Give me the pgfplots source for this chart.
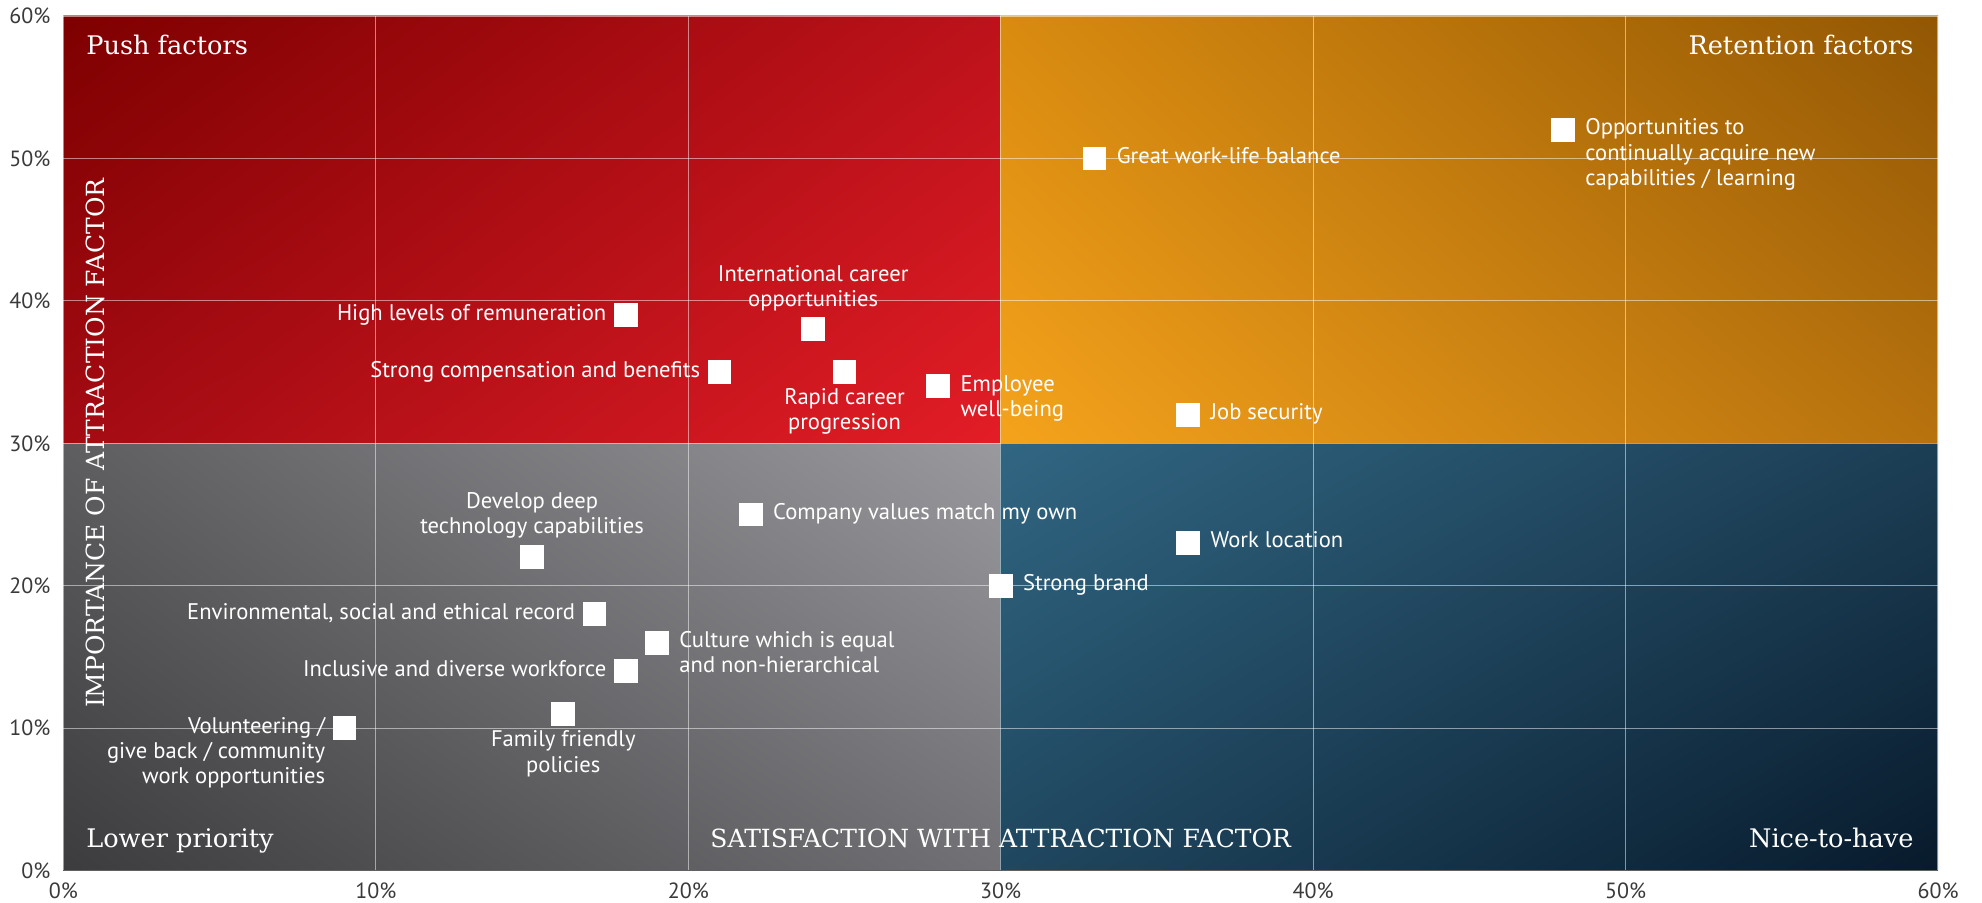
\documentclass[border=0pt]{standalone}
\usepackage{pgfplots}
\pgfplotsset{compat=1.18}
\usepackage{fontspec}
\setmainfont{PT Sans}
\newfontfamily\ttl{DejaVu Serif}
\usetikzlibrary{calc,shadings}

\definecolor{pushUL}{HTML}{7E0000}
\definecolor{pushUR}{HTML}{BD121B}
\definecolor{pushLL}{HTML}{A30B13}
\definecolor{pushLR}{HTML}{E31D26}
\definecolor{retUL}{HTML}{D98B10}
\definecolor{retUR}{HTML}{925704}
\definecolor{retLL}{HTML}{F5A31C}
\definecolor{retLR}{HTML}{B7720E}
\definecolor{lowUL}{HTML}{5E5E61}
\definecolor{lowUR}{HTML}{9A9A9E}
\definecolor{lowLL}{HTML}{3C3C3E}
\definecolor{lowLR}{HTML}{717175}
\definecolor{niceUL}{HTML}{316682}
\definecolor{niceUR}{HTML}{1C3E55}
\definecolor{niceLL}{HTML}{1F475F}
\definecolor{niceLR}{HTML}{081A2C}
\definecolor{ticktext}{HTML}{3A3A3A}

\tikzset{
  lab/.style={text=white, font=\fontsize{11.3}{12.6}\selectfont, inner sep=0pt},
  qt/.style={text=white, font=\ttl\fontsize{12.8}{14}\selectfont, inner sep=0pt},
  axt/.style={text=white, font=\ttl\fontsize{12.5}{14}\selectfont, inner sep=0pt},
}

\begin{document}
\begin{tikzpicture}
\begin{axis}[
  name=ax,
  set layers=standard,
  width=937.3pt, height=427.3pt, scale only axis,
  xmin=0, xmax=60, ymin=0, ymax=60,
  xtick={0,10,...,60}, ytick={0,10,...,60},
  /pgf/number format/assume math mode=true,
  xticklabel={\pgfmathprintnumber{\tick}\%},
  yticklabel={\pgfmathprintnumber{\tick}\%},
  tick label style={font=\fontsize{11}{13}\selectfont, text=ticktext},
  xticklabel style={yshift=-2.5pt},
  yticklabel style={xshift=-3pt},
  major tick length=0pt,
  grid=major,
  grid style={draw=white, draw opacity=0.5, line width=0.6pt},
  axis x line*=bottom, axis y line*=left,
  x axis line style={-, draw=black!62, line width=0.9pt},
  y axis line style={draw=none},
  clip=false,
]
% quadrant backgrounds
\begin{pgfonlayer}{axis background}
\shade[upper left=pushUL, upper right=pushUR, lower left=pushLL, lower right=pushLR] (axis cs:0,30) rectangle (axis cs:30,60);
\shade[upper left=retUL, upper right=retUR, lower left=retLL, lower right=retLR] (axis cs:30,30) rectangle (axis cs:60,60);
\shade[upper left=lowUL, upper right=lowUR, lower left=lowLL, lower right=lowLR] (axis cs:0,0) rectangle (axis cs:30,30);
\shade[upper left=niceUL, upper right=niceUR, lower left=niceLL, lower right=niceLR] (axis cs:30,0) rectangle (axis cs:60,30);
\end{pgfonlayer}

% data points
\addplot[only marks, mark=square*, mark size=5.7pt, mark options={fill=white, draw=white, line width=0pt}] coordinates {
  (33,50) (48,52) (18,39) (24,38) (21,35) (25,35) (28,34) (36,32)
  (22,25) (36,23) (30,20) (15,22) (17,18) (19,16) (18,14) (16,11) (9,10)
};

% point labels
\node[lab, anchor=mid west, xshift=11pt] at (axis cs:33,50) {Great work-life balance};
\node[lab, anchor=mid west, xshift=11pt] at (axis cs:48,52) {\begin{tabular}[t]{@{}l@{}}Opportunities to\\continually acquire new\\capabilities / learning\end{tabular}};
\node[lab, anchor=mid east, xshift=-9.5pt] at (axis cs:18,39) {High levels of remuneration};
\node[lab, anchor=mid, yshift=13.7pt] at (axis cs:24,38) {\begin{tabular}[b]{@{}c@{}}International career\\opportunities\end{tabular}};
\node[lab, anchor=mid east, xshift=-9.5pt] at (axis cs:21,35) {Strong compensation and benefits};
\node[lab, anchor=mid, yshift=-13.5pt] at (axis cs:25,35) {\begin{tabular}[t]{@{}c@{}}Rapid career\\progression\end{tabular}};
\node[lab, anchor=mid west, xshift=11pt] at (axis cs:28,34) {\begin{tabular}[t]{@{}l@{}}Employee\\well-being\end{tabular}};
\node[lab, anchor=mid west, xshift=11pt] at (axis cs:36,32) {Job security};
\node[lab, anchor=mid west, xshift=11pt] at (axis cs:22,25) {Company values match my own};
\node[lab, anchor=mid west, xshift=11pt] at (axis cs:36,23) {Work location};
\node[lab, anchor=mid west, xshift=11pt] at (axis cs:30,20) {Strong brand};
\node[lab, anchor=mid, yshift=14.5pt] at (axis cs:15,22) {\begin{tabular}[b]{@{}c@{}}Develop deep\\technology capabilities\end{tabular}};
\node[lab, anchor=mid east, xshift=-9.5pt] at (axis cs:17,18) {Environmental, social and ethical record};
\node[lab, anchor=mid west, xshift=11pt] at (axis cs:19,16) {\begin{tabular}[t]{@{}l@{}}Culture which is equal\\and non-hierarchical\end{tabular}};
\node[lab, anchor=mid east, xshift=-9.5pt] at (axis cs:18,14) {Inclusive and diverse workforce};
\node[lab, anchor=mid, yshift=-14pt] at (axis cs:16,11) {\begin{tabular}[t]{@{}c@{}}Family friendly\\policies\end{tabular}};
\node[lab, anchor=mid east, xshift=-9.5pt] at (axis cs:9,10) {\begin{tabular}[t]{@{}r@{}}Volunteering /\\give back / community\\work opportunities\end{tabular}};

% quadrant titles
\node[qt, anchor=base west] at (axis cs:0.72,57.27) {Push factors};
\node[qt, anchor=base east] at (axis cs:59.23,57.27) {Retention factors};
\node[qt, anchor=base west] at (axis cs:0.72,1.59) {Lower priority};
\node[qt, anchor=base east] at (axis cs:59.23,1.59) {Nice-to-have};

% axis titles
\node[axt, anchor=base] at (axis cs:30,1.59) {SATISFACTION WITH ATTRACTION FACTOR};
\node[axt, anchor=base, rotate=90] at (axis cs:1.31,30) {IMPORTANCE OF ATTRACTION FACTOR};
\end{axis}
\pgfresetboundingbox
\path[use as bounding box] ($(ax.south west)+(-31.7pt,-16.2pt)$) rectangle ($(ax.north east)+(22pt,8pt)$);
\end{tikzpicture}
\end{document}
